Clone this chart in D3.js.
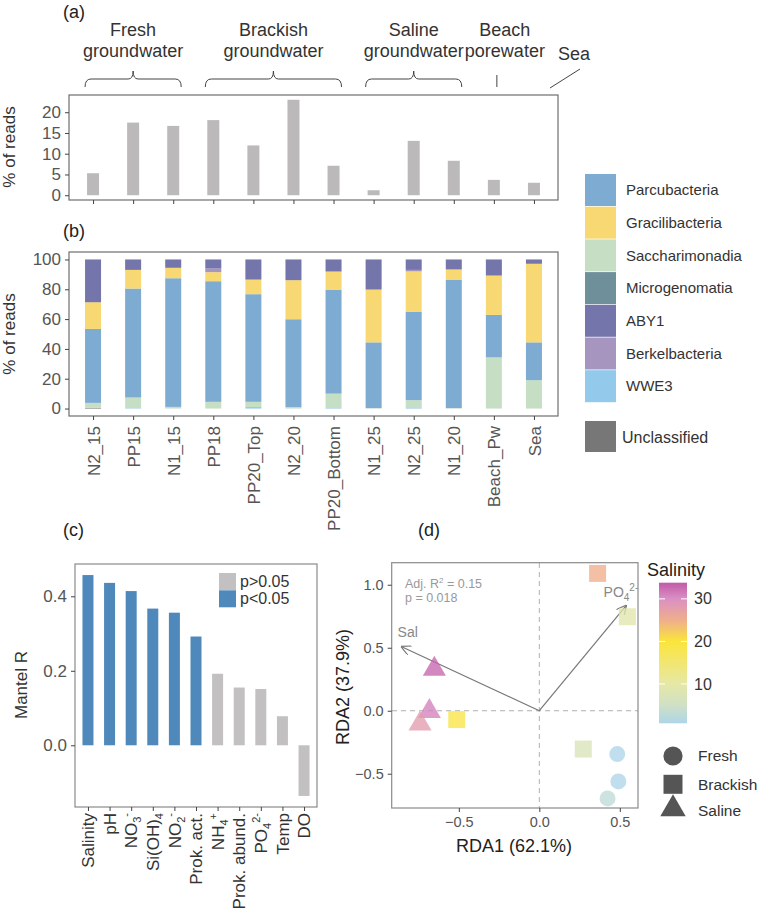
<!DOCTYPE html>
<html>
<head>
<meta charset="utf-8">
<script src="https://cdn.jsdelivr.net/npm/d3@7"></script>
<style>
body { margin: 0; background: #fff; }
svg text { font-family: "Liberation Sans", Arial, sans-serif; }
</style>
</head>
<body>
<div id="chart"></div>
<script>
// ---- data ----
const samples = ["N2_15", "PP15", "N1_15", "PP18", "PP20_Top", "N2_20", "PP20_Bottom", "N1_25", "N2_25", "N1_20", "Beach_Pw", "Sea"];
const cprReads = [5.3, 17.5, 16.7, 18.1, 12.0, 23.0, 7.1, 1.2, 13.1, 8.3, 3.7, 3.0];

const taxa = ["Parcubacteria", "Gracilibacteria", "Saccharimonadia", "Microgenomatia", "ABY1", "Berkelbacteria", "WWE3", "Unclassified"];
const taxaColors = ["#7eabd1", "#f8d872", "#c6dfc4", "#6f8f9b", "#7475ab", "#a695be", "#93c9ea", "#777777"];
const parcubacteria = [49.6, 73.1, 86.3, 80.9, 72.2, 58.9, 69.8, 44.1, 59.4, 86.2, 28.5, 25.4];
const gracilibacteria = [17.9, 12.5, 7.0, 6.1, 9.8, 26.2, 12.1, 35.4, 27.0, 6.8, 26.4, 52.7];
const saccharimonadia = [3.3, 7.1, 1.1, 4.5, 3.5, 1.0, 9.2, 0.3, 4.8, 0.3, 34.3, 19.0];
const microgenomatia = [0, 0, 0, 0, 0, 0, 0, 0, 0, 0, 0, 0];
const aby1 = [28.7, 7.0, 5.6, 6.1, 13.5, 13.9, 8.1, 20.2, 7.0, 6.7, 10.8, 2.9];
const berkelbacteria = [0, 0, 0, 2.4, 0, 0, 0, 0, 1.0, 0, 0, 0];
const wwe3 = [0, 0.3, 0, 0, 1.0, 0, 0.8, 0, 0.8, 0, 0, 0];
const unclassified = [0.5, 0, 0, 0, 0, 0, 0, 0, 0, 0, 0, 0];
// bottom to top in the bars
const stackOrder = ["Unclassified", "WWE3", "Microgenomatia", "Saccharimonadia", "Parcubacteria", "Gracilibacteria", "Berkelbacteria", "ABY1"];

const groupLabels = [["Fresh", "groundwater"], ["Brackish", "groundwater"], ["Saline", "groundwater"], ["Beach", "porewater"], ["Sea"]];
const groupSpans = [[0, 2], [3, 6], [7, 9], [10, 10], [11, 11]];

const mantelVars = ["Salinity", "pH", "NO3", "SiOH4", "NO2", "Prok. act.", "NH4", "Prok. abund.", "PO4", "Temp", "DO"];
const mantelLabels = [["Salinity"], ["pH"], ["NO", "_3", "^-"], ["Si(OH)", "_4"], ["NO", "_2", "^-"], ["Prok. act."], ["NH", "_4", "^+"], ["Prok. abund."], ["PO", "_4", "^2-"], ["Temp"], ["DO"]];
const mantelR = [0.457, 0.436, 0.414, 0.367, 0.356, 0.292, 0.192, 0.155, 0.151, 0.078, -0.136];
const mantelSig = [true, true, true, true, true, true, false, false, false, false, false];

const rdaX = [0.362, 0.547, -0.652, -0.683, -0.741, -0.513, 0.273, 0.484, 0.491, 0.424];
const rdaY = [1.09, 0.746, 0.315, -0.02, -0.12, -0.07, -0.304, -0.344, -0.561, -0.696];
const rdaGroup = ["Brackish", "Brackish", "Saline", "Saline", "Saline", "Brackish", "Brackish", "Fresh", "Fresh", "Fresh"];
const rdaSalinity = [25, 9, 33, 31, 28, 19, 7, 0.8, 0.8, 3];
const envNames = ["Sal", "PO4"];
const envX = [-0.855, 0.538];
const envY = [0.508, 0.833];

const salStops = [0.75, 5, 10, 15, 20, 25, 30, 33.8];
const salColors = ["#aed5e8", "#cfe0c6", "#e6e8a6", "#f2e671", "#fbe53a", "#efae8c", "#da90c4", "#c25aa8"];

const svg = d3.select("#chart").append("svg")
    .attr("width", 761)
    .attr("height", 913);

const tickColor = "#555";
const boxColor = "#6e6e6e";

function styleAxis(g, fontSize) {
    g.select(".domain").remove();
    g.selectAll(".tick line").attr("stroke", "#444");
    g.selectAll(".tick text").attr("fill", tickColor).attr("font-size", fontSize);
}

function panelLabel(txt, x, y) {
    svg.append("text").attr("x", x).attr("y", y)
        .attr("font-size", 18).attr("fill", "#222").text(txt);
}

// ---- panel (a) ----
const xA = d3.scalePoint().domain(samples).range([69, 558]).padding(0.6);
const yA = d3.scaleLinear().domain([-1.15, 24.15]).range([200, 95]);

panelLabel("(a)", 63, 18);

svg.append("g").selectAll("rect")
    .data(samples)
    .enter().append("rect")
    .attr("x", d => xA(d) - 6)
    .attr("width", 12)
    .attr("y", (d, i) => yA(cprReads[i]))
    .attr("height", (d, i) => yA(0) - yA(cprReads[i]))
    .attr("fill", "#bcb9bb");

svg.append("rect").attr("x", 69).attr("y", 95).attr("width", 489).attr("height", 105)
    .attr("fill", "none").attr("stroke", boxColor).attr("stroke-width", 1.2);

svg.append("g").attr("transform", "translate(69,0)")
    .call(d3.axisLeft(yA).tickValues([0, 5, 10, 15, 20]).tickSize(4).tickPadding(4))
    .call(g => styleAxis(g, 17));

svg.append("g").attr("transform", "translate(0,200)")
    .call(d3.axisBottom(xA).tickSize(4).tickFormat(""))
    .call(g => styleAxis(g, 17));

svg.append("text").attr("transform", "translate(15,147) rotate(-90)")
    .attr("text-anchor", "middle").attr("font-size", 17).attr("fill", "#333").text("% of reads");

// group annotations
groupLabels.forEach((lines, i) => {
    let span = groupSpans[i];
    let x0 = xA(samples[span[0]]), x1 = xA(samples[span[1]]);
    let mid = (x0 + x1) / 2;
    let g = svg.append("g");
    if (span[1] > span[0]) {
        let a = x0 - 8, b = x1 + 8;
        g.append("path")
            .attr("d", `M${a},87 Q${a},79 ${a + 6},79 L${mid - 5},79 Q${mid},79 ${mid},71 Q${mid},79 ${mid + 5},79 L${b - 6},79 Q${b},79 ${b},87`)
            .attr("fill", "none").attr("stroke", "#444").attr("stroke-width", 1);
        lines.forEach((t, j) => g.append("text").attr("x", mid).attr("y", 36 + j * 21)
            .attr("text-anchor", "middle").attr("font-size", 18).attr("fill", "#333").text(t));
    } else if (lines.length === 2) {
        g.append("line").attr("x1", mid + 3).attr("x2", mid + 3).attr("y1", 75).attr("y2", 87)
            .attr("stroke", "#444");
        lines.forEach((t, j) => g.append("text").attr("x", mid + 11).attr("y", 36 + j * 21)
            .attr("text-anchor", "middle").attr("font-size", 18).attr("fill", "#333").text(t));
    } else {
        g.append("line").attr("x1", 550).attr("y1", 88).attr("x2", 580).attr("y2", 69)
            .attr("stroke", "#444");
        g.append("text").attr("x", 574).attr("y", 60)
            .attr("text-anchor", "middle").attr("font-size", 18).attr("fill", "#333").text(lines[0]);
    }
});

// ---- panel (b) ----
const yB = d3.scaleLinear().domain([-5, 105]).range([416, 252]);
panelLabel("(b)", 63, 237);

const taxaValues = {
    "Parcubacteria": parcubacteria, "Gracilibacteria": gracilibacteria, "Saccharimonadia": saccharimonadia,
    "Microgenomatia": microgenomatia, "ABY1": aby1, "Berkelbacteria": berkelbacteria, "WWE3": wwe3, "Unclassified": unclassified
};
const stackRows = samples.map((s, i) => {
    let row = {sample: s};
    taxa.forEach(t => row[t] = taxaValues[t][i]);
    return row;
});
const stacked = d3.stack().keys(stackOrder)(stackRows);
const colorOf = d3.scaleOrdinal().domain(taxa).range(taxaColors);

svg.append("g").selectAll("g")
    .data(stacked)
    .enter().append("g")
    .attr("fill", d => colorOf(d.key))
    .selectAll("rect")
    .data(d => d)
    .enter().append("rect")
    .attr("x", d => xA(d.data.sample) - 8)
    .attr("width", 16)
    .attr("y", d => yB(d[1]))
    .attr("height", d => yB(d[0]) - yB(d[1]));

svg.append("rect").attr("x", 69).attr("y", 252).attr("width", 489).attr("height", 164)
    .attr("fill", "none").attr("stroke", boxColor).attr("stroke-width", 1.2);

svg.append("g").attr("transform", "translate(69,0)")
    .call(d3.axisLeft(yB).tickValues([0, 20, 40, 60, 80, 100]).tickSize(4).tickPadding(4))
    .call(g => styleAxis(g, 17));

svg.append("g").attr("transform", "translate(0,416)")
    .call(d3.axisBottom(xA).tickSize(4))
    .call(g => styleAxis(g, 17))
    .call(g => g.selectAll(".tick text")
        .attr("transform", "rotate(-90)")
        .attr("text-anchor", "end")
        .attr("x", -10).attr("y", 0).attr("dy", "0.36em"));

svg.append("text").attr("transform", "translate(15,334) rotate(-90)")
    .attr("text-anchor", "middle").attr("font-size", 17).attr("fill", "#333").text("% of reads");

// legend (b)
const legB = svg.append("g");
taxa.forEach((t, i) => {
    let y = i < 7 ? 174 + i * 32.7 : 421;
    legB.append("rect").attr("x", 585).attr("y", y).attr("width", 31).attr("height", i < 7 ? 32 : 31)
        .attr("fill", taxaColors[i]);
    legB.append("text").attr("x", i < 7 ? 626 : 622).attr("y", y + 16).attr("dy", "0.35em")
        .attr("font-size", i < 7 ? 15 : 16).attr("fill", "#333").text(t);
});

// ---- panel (c) ----
panelLabel("(c)", 63, 536);
const xC = d3.scalePoint().domain(mantelVars).range([75, 317]).padding(0.6);
const yC = d3.scaleLinear().domain([-0.1657, 0.4867]).range([807, 564]);

svg.append("g").selectAll("rect")
    .data(mantelVars)
    .enter().append("rect")
    .attr("x", d => xC(d) - 5.5)
    .attr("width", 11)
    .attr("y", (d, i) => yC(Math.max(0, mantelR[i])))
    .attr("height", (d, i) => Math.abs(yC(mantelR[i]) - yC(0)))
    .attr("fill", (d, i) => mantelSig[i] ? "#4f88ba" : "#c2c0c1");

svg.append("rect").attr("x", 75).attr("y", 564).attr("width", 242).attr("height", 243)
    .attr("fill", "none").attr("stroke", "#8a8a8a").attr("stroke-width", 1.2);

svg.append("g").attr("transform", "translate(75,0)")
    .call(d3.axisLeft(yC).tickValues([0, 0.2, 0.4]).tickFormat(d3.format(".1f")).tickSize(4).tickPadding(4))
    .call(g => styleAxis(g, 17));

svg.append("g").attr("transform", "translate(0,807)")
    .call(d3.axisBottom(xC).tickSize(4).tickFormat(""))
    .call(g => styleAxis(g, 17));

mantelVars.forEach((v, i) => {
    let t = svg.append("text")
        .attr("transform", `translate(${xC(v)},813) rotate(-90)`)
        .attr("text-anchor", "end").attr("dy", "0.36em")
        .attr("font-size", 17).attr("fill", "#333");
    let shift = 0;
    mantelLabels[i].forEach(p => {
        let ts = t.append("tspan");
        if (p[0] === "_") {
            ts.attr("font-size", 11).attr("dy", 4 - shift).text(p.slice(1));
            shift = 4;
        } else if (p[0] === "^") {
            ts.attr("font-size", 11).attr("dy", -7 - shift).text(p.slice(1));
            shift = -7;
        } else {
            ts.text(p);
        }
    });
});

svg.append("text").attr("transform", "translate(27,685) rotate(-90)")
    .attr("text-anchor", "middle").attr("font-size", 17).attr("fill", "#333").text("Mantel R");

// legend (c)
[["p>0.05", "#c2c0c1"], ["p<0.05", "#4f88ba"]].forEach((d, i) => {
    svg.append("rect").attr("x", 219).attr("y", 573 + i * 17.3).attr("width", 17).attr("height", 17)
        .attr("fill", d[1]);
    svg.append("text").attr("x", 240).attr("y", 581.5 + i * 17.3).attr("dy", "0.35em")
        .attr("font-size", 16).attr("fill", "#333").text(d[0]);
});

// ---- panel (d) ----
panelLabel("(d)", 418, 536);
const xD = d3.scaleLinear().domain([-0.917, 0.613]).range([391.7, 638]);
const yD = d3.scaleLinear().domain([-0.772, 1.175]).range([808, 562.7]);
const salScale = d3.scaleLinear().domain(salStops).range(salColors);

svg.append("line").attr("x1", xD(0)).attr("x2", xD(0)).attr("y1", 563).attr("y2", 808)
    .attr("stroke", "#b0b0b0").attr("stroke-dasharray", "5,4");
svg.append("line").attr("x1", 392).attr("x2", 638).attr("y1", yD(0)).attr("y2", yD(0))
    .attr("stroke", "#b0b0b0").attr("stroke-dasharray", "5,4");

const defs = svg.append("defs");
defs.append("marker").attr("id", "arrow")
    .attr("viewBox", "0 0 10 10").attr("refX", 9).attr("refY", 5)
    .attr("markerWidth", 10).attr("markerHeight", 10).attr("orient", "auto")
    .attr("markerUnits", "userSpaceOnUse")
    .append("path").attr("d", "M0,0 L10,5 L0,10").attr("fill", "none").attr("stroke", "#777").attr("stroke-width", 1.2);

envNames.forEach((n, i) => {
    svg.append("line")
        .attr("x1", xD(0)).attr("y1", yD(0))
        .attr("x2", xD(envX[i])).attr("y2", yD(envY[i]))
        .attr("stroke", "#777").attr("stroke-width", 1.2)
        .attr("marker-end", "url(#arrow)");
});

svg.append("text").attr("x", xD(envX[0]) + 6).attr("y", yD(envY[0]) - 10)
    .attr("text-anchor", "middle").attr("font-size", 14).attr("fill", "#888").text("Sal");
const po = svg.append("text").attr("x", xD(envX[1]) - 5).attr("y", yD(envY[1]) - 9)
    .attr("text-anchor", "middle").attr("font-size", 14).attr("fill", "#888");
po.append("tspan").text("PO");
po.append("tspan").attr("font-size", 10).attr("dy", 4).text("4");
po.append("tspan").attr("font-size", 10).attr("dy", -10).text("2-");

const shapeOf = {Fresh: d3.symbolCircle, Brackish: d3.symbolSquare, Saline: d3.symbolTriangle};
const sizeOf = {Fresh: 200, Brackish: 289, Saline: 230};

svg.append("g").selectAll("path")
    .data(rdaX)
    .enter().append("path")
    .attr("transform", (d, i) => `translate(${xD(d)},${yD(rdaY[i]) + (rdaGroup[i] === "Saline" ? -2 : 0)})`)
    .attr("d", (d, i) => d3.symbol().type(shapeOf[rdaGroup[i]]).size(sizeOf[rdaGroup[i]])())
    .attr("fill", (d, i) => salScale(rdaSalinity[i]))
    .attr("opacity", 0.78);

svg.append("rect").attr("x", 391.7).attr("y", 562.7).attr("width", 246.3).attr("height", 245.3)
    .attr("fill", "none").attr("stroke", "#8a8a8a").attr("stroke-width", 1.2);

svg.append("g").attr("transform", "translate(391.7,0)")
    .call(d3.axisLeft(yD).tickValues([-0.5, 0, 0.5, 1.0]).tickFormat(d3.format(".1f")).tickSize(4).tickPadding(4))
    .call(g => styleAxis(g, 14.5));
svg.append("g").attr("transform", "translate(0,808)")
    .call(d3.axisBottom(xD).tickValues([-0.5, 0, 0.5]).tickFormat(d3.format(".1f")).tickSize(4).tickPadding(5))
    .call(g => styleAxis(g, 14.5));

const adj = svg.append("text").attr("x", 405).attr("y", 588).attr("font-size", 12.5).attr("fill", "#999");
adj.append("tspan").text("Adj. R");
adj.append("tspan").attr("font-size", 8).attr("dy", -5).text("2");
adj.append("tspan").attr("dy", 5).text(" = 0.15");
svg.append("text").attr("x", 405).attr("y", 602).attr("font-size", 12.5).attr("fill", "#999").text("p = 0.018");

svg.append("text").attr("x", 514).attr("y", 852).attr("text-anchor", "middle")
    .attr("font-size", 18).attr("fill", "#222").text("RDA1 (62.1%)");
svg.append("text").attr("transform", "translate(349,687) rotate(-90)").attr("text-anchor", "middle")
    .attr("font-size", 18).attr("fill", "#222").text("RDA2 (37.9%)");

// colour bar
const cbY = d3.scaleLinear().domain([0.75, 33.8]).range([723.3, 582.7]);
const grad = defs.append("linearGradient").attr("id", "salgrad")
    .attr("x1", 0).attr("y1", 1).attr("x2", 0).attr("y2", 0);
salStops.forEach((s, i) => grad.append("stop")
    .attr("offset", (s - 0.75) / (33.8 - 0.75)).attr("stop-color", salColors[i]));
svg.append("rect").attr("x", 659).attr("y", 582.7).attr("width", 28).attr("height", 140.6)
    .attr("fill", "url(#salgrad)");
[10, 20, 30].forEach(v => {
    svg.append("line").attr("x1", 659).attr("x2", 665).attr("y1", cbY(v)).attr("y2", cbY(v)).attr("stroke", "#fff");
    svg.append("line").attr("x1", 681).attr("x2", 687).attr("y1", cbY(v)).attr("y2", cbY(v)).attr("stroke", "#fff");
    svg.append("text").attr("x", 694).attr("y", cbY(v)).attr("dy", "0.35em")
        .attr("font-size", 16).attr("fill", "#333").text(v);
});
svg.append("text").attr("x", 647).attr("y", 576).attr("font-size", 18).attr("fill", "#222").text("Salinity");

// shape legend
["Fresh", "Brackish", "Saline"].forEach((g, i) => {
    let cy = [756, 784.3, 809][i];
    svg.append("path").attr("transform", `translate(673,${cy})`)
        .attr("d", d3.symbol().type(shapeOf[g]).size(g === "Saline" ? 280 : (g === "Fresh" ? 290 : 361))())
        .attr("fill", "#555");
    svg.append("text").attr("x", 698).attr("y", cy + (i === 2 ? 2 : 0)).attr("dy", "0.35em")
        .attr("font-size", 15.5).attr("fill", "#333").text(g);
});
</script>
</body>
</html>
